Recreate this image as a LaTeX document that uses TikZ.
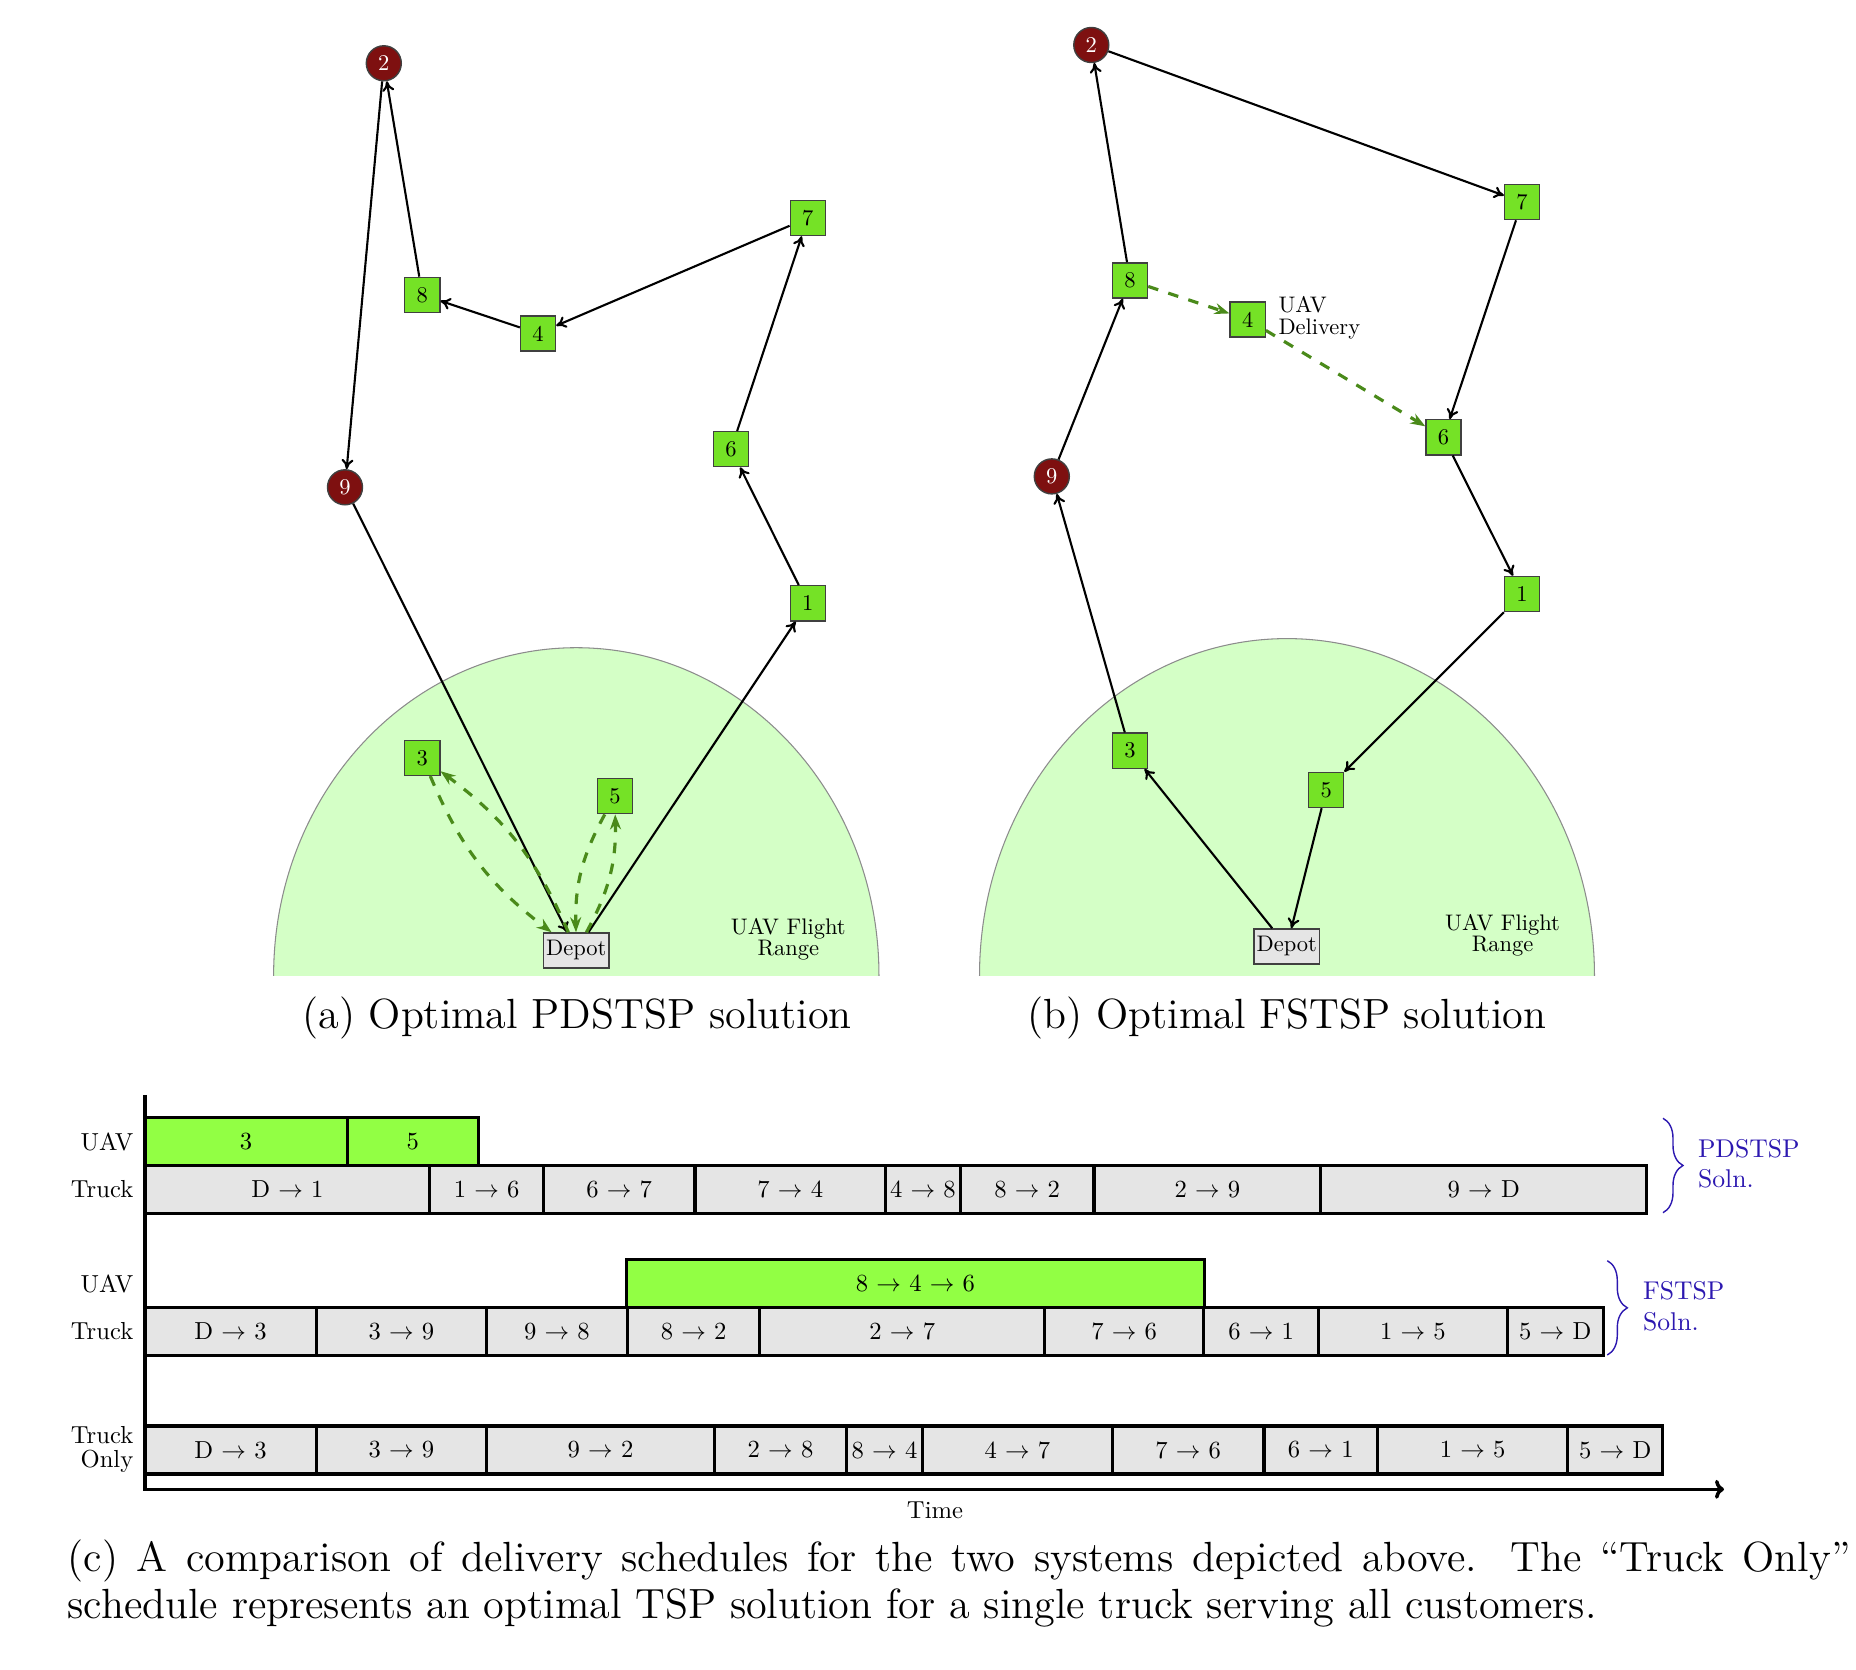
\documentclass[tikz,border=0pt]{standalone}
\usetikzlibrary{positioning,shapes.geometric,arrows.meta,decorations.pathreplacing}

\definecolor{custgreen}{RGB}{117,226,38}
\definecolor{uavgreen}{RGB}{146,255,68}
\definecolor{rangegreen}{RGB}{212,255,198}
\definecolor{dronegreen}{RGB}{74,138,26}
\definecolor{farred}{RGB}{126,16,16}
\definecolor{solnblue}{RGB}{44,24,176}

% small labels: 10pt design size, shrunk
\newcommand{\stack}[2][c]{\begin{tabular}{@{}#1@{}}#2\end{tabular}}
\newcommand{\nd}[1]{\scalebox{0.64}{\fontsize{10}{8.8}\selectfont #1}}
\newcommand{\ch}[1]{\scalebox{0.7}{\fontsize{10}{8.8}\selectfont #1}}
\newcommand{\sol}[1]{\scalebox{0.73}{\fontsize{10}{11.9}\selectfont #1}}
\newcommand{\leg}[2]{\ch{#1 $\rightarrow$ #2}}
\newcommand{\capfont}{\fontsize{12}{13.5}\selectfont}

\begin{document}
\begin{tikzpicture}[x=0.01cm, y=-0.01cm,
  cust/.style={draw=black!75, fill=custgreen, minimum size=0.35cm, inner sep=0pt},
  far/.style={cust, circle, fill=farred, text=white},
  depot/.style={cust, fill=gray!20, minimum width=0.655cm, minimum height=0.35cm},
  truckleg/.style={-{To[length=0.1cm,width=0.12cm]}, semithick},
  droneleg/.style={-{Stealth[length=0.15cm,width=0.11cm]}, line width=0.9pt, dashed, draw=dronegreen},
  flightrange/.style={fill=rangegreen, draw=black!45, line width=0.3pt},
  tbox/.style={draw, line width=0.9pt, fill=gray!20, minimum height=0.48cm, inner sep=0pt, outer sep=0pt},
  ubox/.style={tbox, fill=uavgreen},
  rowlbl/.style={anchor=east, inner sep=0pt},
  soln/.style={anchor=west, inner sep=0pt, text=solnblue},
  solnbrace/.style={draw=solnblue, line width=0.4pt, decorate, decoration={brace, amplitude=0.2cm}}]
  \useasboundingbox (0,0) rectangle (1856,1670);

  % flight range of the UAV
  \begin{scope}
    \clip (0,0) rectangle (1856,975.5);
    \draw[flightrange] (576.3,975.5) ellipse [x radius=3.025cm, y radius=3.276cm];
    \draw[flightrange] (1287,975.5) ellipse [x radius=3.073cm, y radius=3.367cm];
  \end{scope}

  % (a) PDSTSP
  \node[far] (a2) at (383.8,63.3) {\nd{2}};
  \node[far] (a9) at (345,487.3) {\nd{9}};
  \node[cust] (a8) at (422.3,294.8) {\nd{8}};
  \node[cust] (a4) at (538,333.5) {\nd{4}};
  \node[cust] (a7) at (807.8,218) {\nd{7}};
  \node[cust] (a6) at (731.1,449.2) {\nd{6}};
  \node[cust] (a1) at (807.8,603.3) {\nd{1}};
  \node[cust] (a3) at (422.3,757.8) {\nd{3}};
  \node[cust] (a5) at (614.9,796.2) {\nd{5}};
  \node[depot] (aD) at (576.3,950.5) {\nd{Depot}};
  \node[inner sep=0pt] (arange) at (788.3,940) {\nd{\stack{UAV Flight\\Range}}};
  \path[truckleg]
    (a2) edge (a9) (a8) edge (a2) (a4) edge (a8) (a7) edge (a4)
    (a6) edge (a7) (a1) edge (a6) (aD) edge (a1) (a9) edge (aD);
  \path[droneleg]
    (a3) edge[bend right=15] (aD) (aD) edge[bend right=15] (a3)
    (a5) edge[bend right=15] (aD) (aD) edge[bend right=15] (a5);
  \node[anchor=base, font=\capfont] (capa) at (577,1029) {(a) Optimal PDSTSP solution};

  % (b) FSTSP
  \node[far] (b2) at (1091.3,45) {\nd{2}};
  \node[far] (b9) at (1051.8,476.4) {\nd{9}};
  \node[cust] (b7) at (1522.1,202.1) {\nd{7}};
  \node[cust] (b8) at (1130,280.4) {\nd{8}};
  \node[cust] (b4) at (1247.7,319.5) {\nd{4}};
  \node[cust] (b6) at (1443.6,437.3) {\nd{6}};
  \node[cust] (b1) at (1522.1,594) {\nd{1}};
  \node[cust] (b3) at (1130,750.7) {\nd{3}};
  \node[cust] (b5) at (1326.2,790) {\nd{5}};
  \node[depot] (bD) at (1286.8,946.5) {\nd{Depot}};
  \node[anchor=west, inner sep=0pt] (bdel) at (1277.8,318.6) {\nd{\stack[l]{UAV\\Delivery}}};
  \node[inner sep=0pt] (brange) at (1502.6,936) {\nd{\stack{UAV Flight\\Range}}};
  \path[truckleg]
    (bD) edge (b3) (b3) edge (b9) (b9) edge (b8) (b8) edge (b2) (b2) edge (b7)
    (b7) edge (b6) (b6) edge (b1) (b1) edge (b5) (b5) edge (bD);
  \path[droneleg] (b8) edge (b4) (b4) edge (b6);
  \node[anchor=base, font=\capfont] (capb) at (1287,1029) {(b) Optimal FSTSP solution};

  % (c) schedules
  \foreach \xa/\xb/\ka [count=\i] in {145/347.1/3, 347.1/478.6/5}
    \node[ubox, minimum width={(\xb-\xa)*0.01cm}] (pu\i) at ({(\xa+\xb)/2},1141.5) {\ch{\ka}};
  \foreach \xa/\xb/\ka/\kb [count=\i] in {145/429.8/D/1, 429.8/543.4/1/6, 543.4/695/6/7,
      695/885.6/7/4, 885.6/960.3/4/8, 960.3/1094/8/2, 1094/1320.8/2/9, 1320.8/1646.8/9/D}
    \node[tbox, minimum width={(\xb-\xa)*0.01cm}] (pt\i) at ({(\xa+\xb)/2},1189.5) {\leg{\ka}{\kb}};
  \node[ubox, minimum width=5.775cm] (fu1) at (915.45,1283.5) {\ch{8 $\rightarrow$ 4 $\rightarrow$ 6}};
  \foreach \xa/\xb/\ka/\kb [count=\i] in {145/316.1/D/3, 316.1/486.6/3/9, 486.6/627.3/9/8,
      627.3/759.9/8/2, 759.9/1044.7/2/7, 1044.7/1203.7/7/6, 1203.7/1318.5/6/1,
      1318.5/1507.3/1/5, 1507.3/1603.2/5/D}
    \node[tbox, minimum width={(\xb-\xa)*0.01cm}] (ft\i) at ({(\xa+\xb)/2},1331.5) {\leg{\ka}{\kb}};
  \foreach \xa/\xb/\ka/\kb [count=\i] in {145/316.1/D/3, 316.1/486.6/3/9, 486.6/714.5/9/2,
      714.5/846.5/2/8, 846.5/922.5/8/4, 922.5/1112.4/4/7, 1112.4/1264/7/6,
      1264/1377.6/6/1, 1377.6/1567.6/1/5, 1567.6/1662.9/5/D}
    \node[tbox, minimum width={(\xb-\xa)*0.01cm}] (ot\i) at ({(\xa+\xb)/2},1450) {\leg{\ka}{\kb}};

  \node[rowlbl] (lpu) [left=0.11cm of pu1] {\ch{UAV}};
  \node[rowlbl] (lpt) [left=0.11cm of pt1] {\ch{Truck}};
  \node[rowlbl] (lfu) at (134,1283.5) {\ch{UAV}};
  \node[rowlbl] (lft) [left=0.11cm of ft1] {\ch{Truck}};
  \node[rowlbl] (lot) [left=0.11cm of ot1] {\ch{\stack[r]{Truck\\Only}}};

  % time axis
  \coordinate (ytop) at (145,1095);
  \coordinate (origin) at (145,1489.3);
  \coordinate (xend) at (1724,1489.3);
  \draw[line width=1pt, -{To[length=0.09cm,width=0.19cm]}] (ytop) -- (origin) -- (xend);
  \node[inner sep=0pt] (tlab) at (935,1510.7) {\ch{Time}};

  % braces
  \coordinate (pbtop) at (1663,1118.3);
  \coordinate (pbbot) at (1663,1212.7);
  \coordinate (fbtop) at (1607.3,1260.7);
  \coordinate (fbbot) at (1607.3,1355);
  \draw[solnbrace] (pbtop) -- (pbbot);
  \draw[solnbrace] (fbtop) -- (fbbot);
  \node[soln] (pdlbl) at (1697.3,1166.4) {\sol{\stack[l]{PDSTSP\\Soln.}}};
  \node[soln] (fslbl) at (1642.3,1308.9) {\sol{\stack[l]{FSTSP\\Soln.}}};

  \node[anchor=north west, inner sep=0pt, text width=17.82cm, align=justify, font=\capfont] (capc) at (67,1539)
    {\noindent(c) A comparison of delivery schedules for the two systems depicted above. The ``Truck Only'' schedule represents an optimal TSP solution for a single truck serving all customers.};
\end{tikzpicture}
\end{document}
